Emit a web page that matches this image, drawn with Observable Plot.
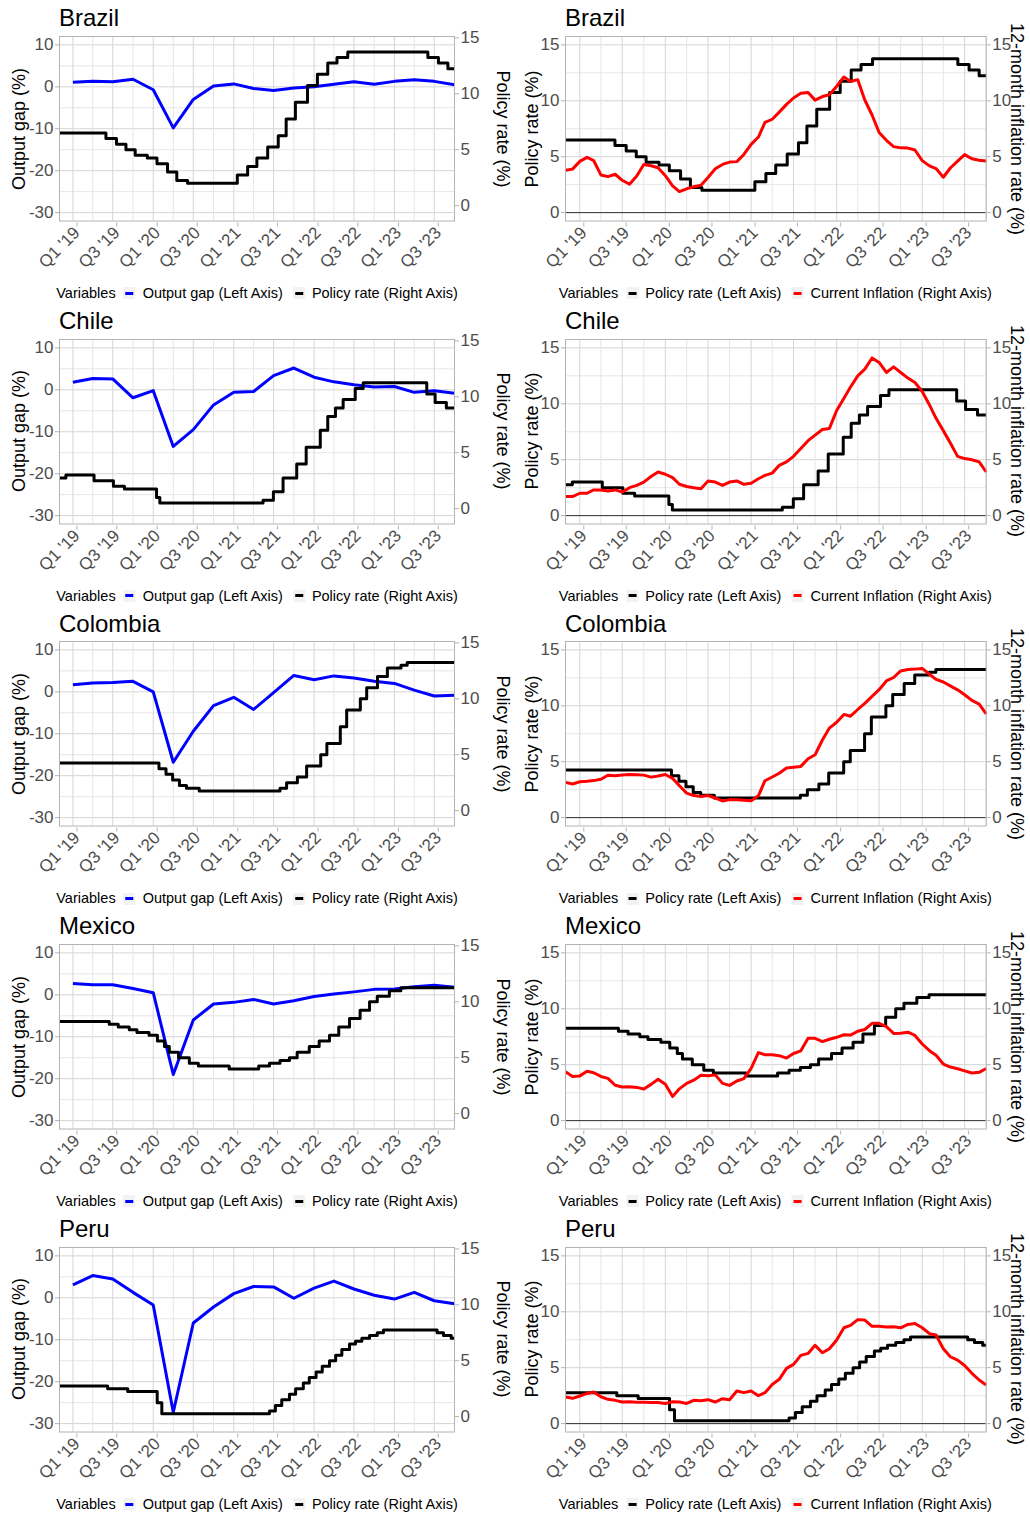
<!DOCTYPE html>
<html>
<head>
<meta charset="utf-8">
<script src="https://cdn.jsdelivr.net/npm/d3@7"></script>
<script src="https://cdn.jsdelivr.net/npm/@observablehq/plot@0.6"></script>
<style>
body{margin:0;background:#fff;font-family:"Liberation Sans",Arial,Helvetica,sans-serif;}
#root{position:relative;width:1030px;height:1515px;overflow:hidden;background:#fff}
.cell{position:absolute;width:515px;height:303px}
.cell svg{position:absolute;left:0;top:0;overflow:visible}
.title{position:absolute;font-size:24px;line-height:1;color:#000;white-space:nowrap}
.ytitle{position:absolute;font-size:18px;line-height:1;color:#000;white-space:nowrap}
.legend{position:absolute;display:flex;align-items:center;height:14.5px;font-size:14.5px;line-height:1;color:#000;white-space:nowrap;transform:translateX(-50%)}
.key{width:12px;height:12px;background:#f2f2f2;position:relative;flex:none}
.key i{position:absolute;left:2px;right:2px;top:4.5px;height:3px}
</style>
</head>
<body>
<div id="root"></div>
<script>
// ---------------- data ----------------
const countries = ["Brazil", "Chile", "Colombia", "Mexico", "Peru"];

const xTickDates = ["2019-01-01","2019-07-01","2020-01-01","2020-07-01","2021-01-01","2021-07-01","2022-01-01","2022-07-01","2023-01-01","2023-07-01"];
const xTickLabels = ["Q1 '19","Q3 '19","Q1 '20","Q3 '20","Q1 '21","Q3 '21","Q1 '22","Q3 '22","Q1 '23","Q3 '23"];
const xMinorDates = ["2019-04-01","2019-10-01","2020-04-01","2020-10-01","2021-04-01","2021-10-01","2022-04-01","2022-10-01","2023-04-01","2023-10-01"];
const xStart = "2018-11-01", xEnd = "2023-10-01";

const quarterDates = ["2019-01-01","2019-04-01","2019-07-01","2019-10-01","2020-01-01","2020-04-01","2020-07-01","2020-10-01",
  "2021-01-01","2021-04-01","2021-07-01","2021-10-01","2022-01-01","2022-04-01","2022-07-01","2022-10-01",
  "2023-01-01","2023-04-01","2023-07-01","2023-10-01"];

// Output gap (%), quarterly
const gapBrazil   = [1.1, 1.3, 1.2, 1.8, -0.7, -9.8, -3.0, 0.2, 0.7, -0.4, -0.9, -0.3, 0.0, 0.6, 1.2, 0.6, 1.3, 1.7, 1.3, 0.5];
const gapChile    = [1.8, 2.7, 2.6, -1.9, -0.2, -13.5, -9.5, -3.6, -0.6, -0.4, 3.4, 5.2, 3.0, 1.9, 1.2, 0.7, 0.8, -0.6, -0.2, -0.8];
const gapColombia = [1.7, 2.1, 2.2, 2.5, 0.0, -16.8, -9.4, -3.3, -1.3, -4.2, -0.2, 3.9, 2.9, 3.8, 3.3, 2.5, 2.0, 0.4, -1.0, -0.8];
const gapMexico   = [2.7, 2.4, 2.4, 1.5, 0.5, -19.0, -6.0, -2.2, -1.8, -1.1, -2.2, -1.4, -0.4, 0.2, 0.7, 1.3, 1.4, 1.9, 2.3, 1.8];
const gapPeru     = [3.1, 5.3, 4.5, 1.3, -1.7, -27.3, -6.0, -2.2, 1.0, 2.7, 2.6, -0.1, 2.3, 4.0, 2.1, 0.6, -0.3, 1.3, -0.7, -1.4];

// Policy rate (%): dates where the rate changes, and the new rate
const policyDatesBrazil = ["2018-11-01","2019-05-31","2019-07-18","2019-08-30","2019-10-11","2019-12-05","2020-01-18","2020-03-06","2020-04-17","2020-06-05",
  "2021-01-17","2021-03-05","2021-04-16","2021-06-04","2021-07-22","2021-08-27","2021-10-08","2021-12-02","2022-01-16","2022-03-04","2022-04-15","2022-06-03",
  "2023-06-02","2023-07-20","2023-09-01","2023-10-01"];
const policyBrazil = [6.5, 6.0, 5.5, 5.0, 4.5, 4.25, 3.75, 3.0, 2.25, 2.0, 2.75, 3.5, 4.25, 5.25, 6.25, 7.75, 9.25, 10.75, 11.75, 12.75, 13.25, 13.75, 13.25, 12.75, 12.25, 12.25];

const policyDatesChile = ["2018-11-01","2018-11-30","2019-04-07","2019-07-04","2019-08-23","2020-01-16","2020-01-31","2021-05-14","2021-06-30","2021-08-13",
  "2021-10-14","2021-11-26","2022-01-29","2022-03-04","2022-04-08","2022-05-13","2022-07-07","2022-08-12","2023-05-28","2023-07-05","2023-08-25","2023-10-01"];
const policyChile = [2.75, 3.0, 2.5, 2.0, 1.75, 1.0, 0.5, 0.75, 1.5, 2.75, 4.0, 5.5, 7.0, 8.25, 9.0, 9.75, 10.75, 11.25, 10.25, 9.5, 9.0, 9.0];

const policyDatesColombia = ["2018-11-01","2020-01-27","2020-02-28","2020-03-29","2020-04-29","2020-05-31","2020-07-28","2021-07-30","2021-08-29","2021-10-17",
  "2021-11-28","2022-01-31","2022-02-28","2022-04-30","2022-05-29","2022-07-30","2022-08-28","2022-10-16","2022-11-30","2023-01-31","2023-02-28","2023-10-01"];
const policyColombia = [4.25, 3.75, 3.25, 2.75, 2.25, 2.0, 1.75, 2.0, 2.5, 3.0, 4.0, 5.0, 6.0, 7.5, 9.0, 10.0, 11.0, 12.0, 12.75, 13.0, 13.25, 13.25];

const policyDatesMexico = ["2018-11-01","2019-06-15","2019-07-26","2019-09-14","2019-10-19","2019-12-13","2020-01-20","2020-02-21","2020-03-14","2020-04-25",
  "2020-06-13","2020-07-24","2020-12-11","2021-04-24","2021-06-12","2021-07-30","2021-09-11","2021-10-16","2021-12-10","2022-01-24","2022-03-12",
  "2022-04-23","2022-06-11","2022-07-29","2022-09-10","2022-10-15","2022-12-09","2023-01-30","2023-10-01"];
const policyMexico = [8.25, 8.0, 7.75, 7.5, 7.25, 7.0, 6.5, 6.0, 5.5, 5.0, 4.5, 4.25, 4.0, 4.25, 4.5, 4.75, 5.0, 5.5, 6.0, 6.5, 7.0, 7.75, 8.5, 9.25, 10.0, 10.5, 11.0, 11.25, 11.25];

const policyDatesPeru = ["2018-11-01","2019-06-08","2019-09-07","2020-01-19","2020-02-09","2021-06-12","2021-07-09","2021-08-07","2021-09-11","2021-10-09",
  "2021-11-13","2021-12-10","2022-01-10","2022-02-07","2022-03-12","2022-04-09","2022-05-07","2022-06-11","2022-07-08","2022-08-06","2022-09-10",
  "2022-10-15","2022-11-12","2023-07-14","2023-08-12","2023-09-16","2023-10-01"];
const policyPeru = [2.75, 2.5, 2.25, 1.25, 0.25, 0.5, 1.0, 1.5, 2.0, 2.5, 3.0, 3.5, 4.0, 4.5, 5.0, 5.5, 6.0, 6.5, 6.75, 7.0, 7.25, 7.5, 7.75, 7.5, 7.25, 7.0, 7.0];

// 12-month inflation (%), monthly from Nov '18 to Oct '23 on the chart's axis
const inflationBrazil = [3.78,3.89,4.58,4.94,4.66,3.37,3.22,3.43,2.89,2.54,3.27,4.31, 4.19,4.01,3.30,2.40,1.88,2.13,2.31,2.44,3.14,3.92,4.31,4.52,
  4.56,5.20,6.10,6.76,8.06,8.35,8.99,9.68,10.25,10.67,10.74,10.06, 10.38,10.54,11.30,12.13,11.73,11.89,10.07,8.73,7.17,6.47,5.90,5.79,
  5.77,5.60,4.65,4.18,3.94,3.16,3.99,4.61,5.19,4.82,4.68,4.62];
const inflationChile = [1.7,1.7,2.0,2.0,2.3,2.3,2.2,2.3,2.1,2.5,2.7,3.0, 3.5,3.9,3.7,3.4,2.8,2.6,2.5,2.4,3.1,3.0,2.7,3.0,
  3.1,2.8,2.9,3.3,3.6,3.8,4.5,4.8,5.3,6.0,6.7,7.2, 7.7,7.8,9.4,10.5,11.5,12.5,13.1,14.1,13.7,12.8,13.3,12.8,
  12.3,11.9,11.1,9.9,8.7,7.6,6.5,5.3,5.1,5.0,4.8,3.9];
const inflationColombia = [3.15,3.01,3.21,3.25,3.31,3.43,3.79,3.75,3.82,3.86,3.84,3.80, 3.62,3.72,3.86,3.51,2.85,2.19,1.97,1.88,1.97,1.75,1.49,1.61,
  1.60,1.56,1.51,1.95,3.30,3.63,3.97,4.44,4.51,4.58,5.26,5.62, 6.94,8.01,8.53,9.23,9.07,9.67,10.21,10.84,11.44,12.22,12.53,13.12,
  13.25,13.28,13.34,12.82,12.36,12.13,11.78,11.43,10.99,10.48,10.15,9.28];
const inflationMexico = [4.37,3.94,4.00,4.41,4.28,3.95,3.78,3.16,3.00,3.02,2.97,2.83, 3.24,3.70,3.25,2.15,2.84,3.33,3.62,4.05,4.01,4.09,3.33,3.15,
  3.54,3.76,4.67,6.08,5.89,5.88,5.81,5.59,6.00,6.24,7.37,7.36, 7.07,7.28,7.45,7.68,7.65,7.99,8.15,8.70,8.70,8.41,7.80,7.82,
  7.91,7.62,6.85,6.25,5.84,5.06,4.79,4.64,4.45,4.26,4.32,4.66];
const inflationPeru = [2.38,2.26,2.47,2.70,2.83,2.40,2.17,2.08,1.93,1.96,1.90,1.90, 1.88,1.88,1.80,1.96,1.93,1.80,2.08,2.05,2.14,1.93,2.23,2.14,
  2.92,2.77,2.92,2.50,2.77,3.50,3.96,4.94,5.30,6.10,6.28,7.00, 6.34,6.70,7.47,8.57,8.78,9.30,9.26,8.70,8.70,8.63,8.66,8.57,
  8.87,8.96,8.57,8.04,7.92,6.70,5.98,5.68,5.20,4.50,3.90,3.45];

const leftLegend = ["Output gap (Left Axis)", "Policy rate (Right Axis)"];
const rightLegend = ["Policy rate (Left Axis)", "Current Inflation (Right Axis)"];
const legendTitle = "Variables";
const leftTicks = [-30, -20, -10, 0, 10];
const leftMinor = [-25, -15, -5, 5];
const rateTicks = [0, 5, 10, 15];
const rateMinor = [2.5, 7.5, 12.5];

const series = {
  Brazil:   {gap: gapBrazil,   pd: policyDatesBrazil,   p: policyBrazil,   inf: inflationBrazil},
  Chile:    {gap: gapChile,    pd: policyDatesChile,    p: policyChile,    inf: inflationChile},
  Colombia: {gap: gapColombia, pd: policyDatesColombia, p: policyColombia, inf: inflationColombia},
  Mexico:   {gap: gapMexico,   pd: policyDatesMexico,   p: policyMexico,   inf: inflationMexico},
  Peru:     {gap: gapPeru,     pd: policyDatesPeru,     p: policyPeru,     inf: inflationPeru}
};

// ---------------- drawing ----------------
const BLUE = "#0000ff", RED = "#ff0000", BLACK = "#000000";
const MAJOR = "#d5d5d5", MINOR = "#e6e6e6", BORDER = "#b3b3b3", TEXT = "#4d4d4d";
const FONT = "'Liberation Sans', Arial, Helvetica, sans-serif";
const FS = 17;
const W = 515, H = 280;
const xDomain = [new Date(xStart), new Date(xEnd)];
const monthDates = d3.utcMonth.range(new Date(xStart), d3.utcMonth.offset(new Date(xEnd), 1));
const tickLabel = new Map(xTickDates.map((d, i) => [+new Date(d), xTickLabels[i]]));
// secondary axis (policy rate) expressed in output-gap units
const toGap = p => (p - 10.625) / 0.375;
const fromGap = g => g * 0.375 + 10.625;

function commonX() {
  return [
    Plot.gridX(xMinorDates.map(d => new Date(d)), {stroke: MINOR, strokeOpacity: 1, strokeWidth: 1}),
    Plot.gridX(xTickDates.map(d => new Date(d)), {stroke: MAJOR, strokeOpacity: 1, strokeWidth: 1})
  ];
}
function xAxis() {
  return Plot.axisX(xTickDates.map(d => new Date(d)), {
    anchor: "bottom", tickSize: 4, tickPadding: 3, tickRotate: -45, dx: 4, dy: 2,
    tickFormat: d => tickLabel.get(+d), stroke: BORDER, fill: TEXT, fontSize: FS, label: null
  });
}
function yAxis(ticks, anchor, fmt) {
  return Plot.axisY(ticks, {
    anchor, tickSize: 4, tickPadding: 2, tickFormat: fmt, stroke: BORDER, fill: TEXT, fontSize: FS, label: null
  });
}

function leftPlot(s) {
  const gapData = quarterDates.map((d, i) => ({date: new Date(d), v: s.gap[i]}));
  const polData = s.pd.map((d, i) => ({date: new Date(d), v: toGap(s.p[i])}));
  return Plot.plot({
    width: W, height: H, marginLeft: 59, marginRight: 61, marginTop: 36, marginBottom: 59.5,
    x: {type: "utc", domain: xDomain},
    y: {domain: [-32, 12]},
    style: {fontFamily: FONT, fontSize: FS + "px", color: TEXT, background: "transparent"},
    marks: [
      Plot.gridY(leftMinor, {stroke: MINOR, strokeOpacity: 1}),
      Plot.gridY(leftTicks, {stroke: MAJOR, strokeOpacity: 1}),
      ...commonX(),
      Plot.line(gapData, {x: "date", y: "v", stroke: BLUE, strokeWidth: 3, strokeLinejoin: "round", strokeLinecap: "butt"}),
      Plot.line(polData, {x: "date", y: "v", stroke: BLACK, strokeWidth: 3, curve: "step-after", strokeLinecap: "butt"}),
      Plot.frame({stroke: BORDER, strokeWidth: 1}),
      yAxis(leftTicks, "left", d => String(d)),
      yAxis(rateTicks.map(toGap), "right", d => String(Math.round(fromGap(d)))),
      xAxis()
    ]
  });
}

function rightPlot(s) {
  const polData = s.pd.map((d, i) => ({date: new Date(d), v: s.p[i]}));
  const infData = monthDates.map((d, i) => ({date: d, v: s.inf[i]}));
  return Plot.plot({
    width: W, height: H, marginLeft: 50, marginRight: 44.3, marginTop: 36, marginBottom: 59.5,
    x: {type: "utc", domain: xDomain},
    y: {domain: [-0.75, 15.75]},
    style: {fontFamily: FONT, fontSize: FS + "px", color: TEXT, background: "transparent"},
    marks: [
      Plot.gridY(rateMinor, {stroke: MINOR, strokeOpacity: 1}),
      Plot.gridY(rateTicks, {stroke: MAJOR, strokeOpacity: 1}),
      ...commonX(),
      Plot.ruleY([0], {stroke: "#333333", strokeWidth: 1}),
      Plot.line(polData, {x: "date", y: "v", stroke: BLACK, strokeWidth: 3, curve: "step-after", strokeLinecap: "butt"}),
      Plot.line(infData, {x: "date", y: "v", stroke: RED, strokeWidth: 3, strokeLinejoin: "round", strokeLinecap: "butt"}),
      Plot.frame({stroke: BORDER, strokeWidth: 1}),
      yAxis(rateTicks, "left", d => String(d)),
      yAxis(rateTicks, "right", d => String(d)),
      xAxis()
    ]
  });
}

function el(parent, cls, text, css) {
  const e = document.createElement("div");
  e.className = cls;
  if (text != null) e.textContent = text;
  Object.assign(e.style, css || {});
  parent.appendChild(e);
  return e;
}
function yTitle(cell, text, cx, cy, deg) {
  el(cell, "ytitle", text, {left: cx + "px", top: cy + "px", transform: `translate(-50%,-50%) rotate(${deg}deg)`});
}
function legend(cell, cx, items) {
  const L = el(cell, "legend", null, {left: cx + "px", top: "286px"});
  el(L, "", legendTitle, {marginRight: "8px"});
  items.forEach(([color, label], i) => {
    const k = el(L, "key", null, {marginRight: "7px", marginLeft: i ? "10px" : "0"});
    const line = document.createElement("i");
    line.style.background = color;
    k.appendChild(line);
    el(L, "", label);
  });
}

const root = document.getElementById("root");
countries.forEach((c, r) => {
  const top = 302.7 * r;
  const s = series[c];
  const L = el(root, "cell", null, {left: "0px", top: top + "px"});
  L.appendChild(leftPlot(s));
  el(L, "title", c, {left: "59px", top: "6.2px"});
  yTitle(L, "Output gap (%)", 19, 128.5, -90);
  yTitle(L, "Policy rate (%)", 502.5, 128.5, 90);
  legend(L, 257, [[BLUE, leftLegend[0]], [BLACK, leftLegend[1]]]);

  const R = el(root, "cell", null, {left: "515px", top: top + "px"});
  R.appendChild(rightPlot(s));
  el(R, "title", c, {left: "50px", top: "6.2px"});
  yTitle(R, "Policy rate (%)", 16.5, 128.5, -90);
  yTitle(R, "12-month inflation rate (%)", 501.7, 128.5, 90);
  legend(R, 260.3, [[BLACK, rightLegend[0]], [RED, rightLegend[1]]]);
});
</script>
</body>
</html>
